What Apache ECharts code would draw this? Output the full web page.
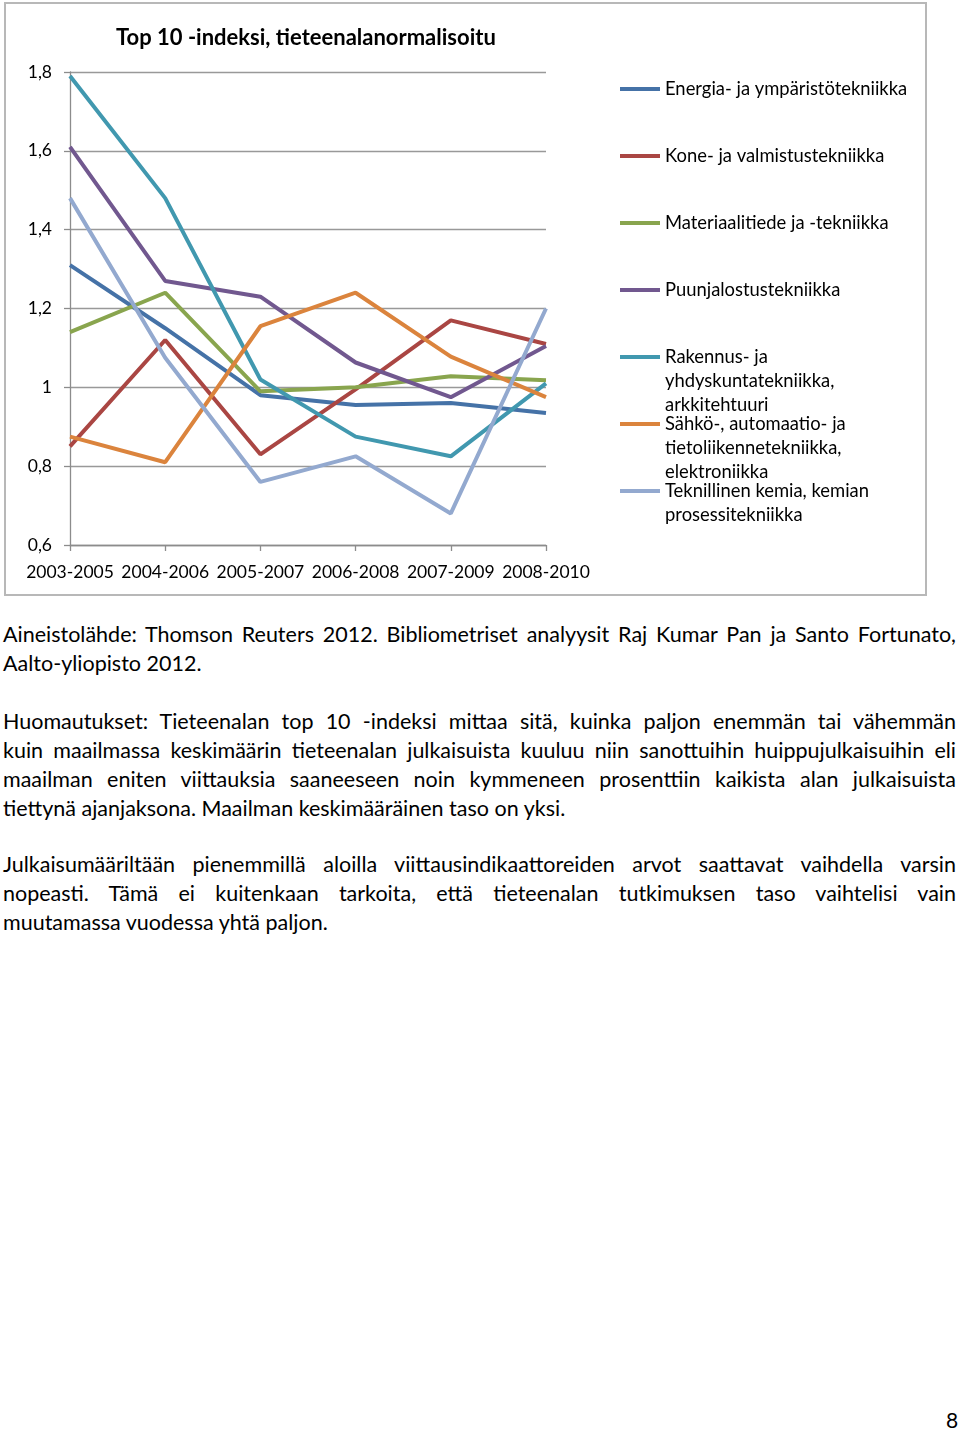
<!DOCTYPE html>
<html>
<head>
<meta charset="utf-8">
<script src="https://cdn.jsdelivr.net/npm/echarts@6/dist/echarts.min.js"></script>
<style>
  html, body { margin: 0; padding: 0; background: #fff; }
  body { width: 960px; height: 1432px; position: relative; font-family: Lato, sans-serif; color: #000; }
  #chartTop10 { position: absolute; left: 0; top: 0; width: 960px; height: 600px; }
  .notes { position: absolute; left: 3px; top: 620px; width: 953px; font-size: 21.5px; line-height: 29px; }
  .notes p { margin: 0; }
  .notes .ln { white-space: nowrap; }
  .notes .j { text-align: justify; text-align-last: justify; }
  .p2 { margin-top: 29px !important; }
  .p3 { margin-top: 27px !important; }
  .pagenum { position: absolute; left: 946px; top: 1407px; font-size: 21px; }
</style>
</head>
<body>
  <div id="chartTop10"></div>
  <div class="notes">
    <p>
      <span class="ln j" style="display:block">Aineistolähde: Thomson Reuters 2012. Bibliometriset analyysit Raj Kumar Pan ja Santo Fortunato,</span>
      <span class="ln" style="display:block">Aalto-yliopisto 2012.</span>
    </p>
    <p class="p2">
      <span class="ln j" style="display:block">Huomautukset: Tieteenalan top 10 -indeksi mittaa sitä, kuinka paljon enemmän tai vähemmän</span>
      <span class="ln j" style="display:block">kuin maailmassa keskimäärin tieteenalan julkaisuista kuuluu niin sanottuihin huippujulkaisuihin eli</span>
      <span class="ln j" style="display:block">maailman eniten viittauksia saaneeseen noin kymmeneen prosenttiin kaikista alan julkaisuista</span>
      <span class="ln" style="display:block">tiettynä ajanjaksona. Maailman keskimääräinen taso on yksi.</span>
    </p>
    <p class="p3">
      <span class="ln j" style="display:block">Julkaisumääriltään pienemmillä aloilla viittausindikaattoreiden arvot saattavat vaihdella varsin</span>
      <span class="ln j" style="display:block">nopeasti. Tämä ei kuitenkaan tarkoita, että tieteenalan tutkimuksen taso vaihtelisi vain</span>
      <span class="ln" style="display:block">muutamassa vuodessa yhtä paljon.</span>
    </p>
  </div>
  <div class="pagenum">8</div>

<script>
  // chart data
  const categories = ["2003-2005", "2004-2006", "2005-2007", "2006-2008", "2007-2009", "2008-2010"];
  const energia = [1.31, 1.15, 0.98, 0.955, 0.96, 0.935];
  const kone = [0.85, 1.12, 0.83, 0.995, 1.17, 1.11];
  const materiaali = [1.14, 1.24, 0.99, 1.0, 1.028, 1.018];
  const puunjalostus = [1.61, 1.27, 1.23, 1.063, 0.975, 1.105];
  const rakennus = [1.79, 1.48, 1.02, 0.875, 0.825, 1.01];
  const sahko = [0.875, 0.81, 1.155, 1.24, 1.078, 0.975];
  const teknillinen = [1.48, 1.075, 0.76, 0.825, 0.68, 1.2];
  const yTicks = ["0,6", "0,8", "1", "1,2", "1,4", "1,6", "1,8"];

  const names = [
    "Energia- ja ympäristötekniikka",
    "Kone- ja valmistustekniikka",
    "Materiaalitiede ja -tekniikka",
    "Puunjalostustekniikka",
    "Rakennus- ja\nyhdyskuntatekniikka,\narkkitehtuuri",
    "Sähkö-, automaatio- ja\ntietoliikennetekniikka,\nelektroniikka",
    "Teknillinen kemia, kemian\nprosessitekniikka"
  ];
  const values = [energia, kone, materiaali, puunjalostus, rakennus, sahko, teknillinen];
  const colors = ["#4572A7", "#AA4643", "#89A54E", "#71588F", "#4198AF", "#DB843D", "#93A9CF"];

  // legend rows: icon centre y, and blank lines put in front so the icon sits on the first line
  const legendY = [89, 156, 223, 290, 357, 424, 491];
  const LH = 24;

  const legends = names.map((name, i) => {
    const lines = name.split("\n").length;
    const pad = lines - 1;
    const total = lines + pad;
    return {
      data: [name],
      orient: "vertical",
      left: 620,
      top: legendY[i] - (total * LH) / 2,
      padding: 0,
      icon: "rect",
      itemWidth: 40,
      itemHeight: 4,
      selectedMode: false,
      formatter: (n) => "\n".repeat(pad) + n,
      textStyle: { fontFamily: "Lato", fontSize: 18.4, color: "#000", lineHeight: LH }
    };
  });

  const option = {
    animation: false,
    color: colors,
    title: {
      text: "Top 10 -indeksi, tieteenalanormalisoitu",
      left: 116,
      top: 26,
      padding: 0,
      textStyle: { fontFamily: "Lato", fontSize: 22, fontWeight: "bold", color: "#000", lineHeight: 24 }
    },
    legend: legends,
    grid: { left: 70, top: 72, width: 476, height: 473 },
    xAxis: {
      type: "category",
      boundaryGap: false,
      data: categories,
      axisLine: { lineStyle: { color: "#8c8c8c", width: 1.3 } },
      axisTick: { length: 6, lineStyle: { color: "#8c8c8c", width: 1.3 } },
      axisLabel: { margin: 18, fontFamily: "Lato", fontSize: 17.5, color: "#000", interval: 0 }
    },
    yAxis: {
      type: "value",
      min: 0.6,
      max: 1.8,
      interval: 0.2,
      axisLine: { show: true, lineStyle: { color: "#8c8c8c", width: 1.3 } },
      axisTick: { show: true, length: 6, lineStyle: { color: "#8c8c8c", width: 1.3 } },
      splitLine: { lineStyle: { color: "#999", width: 1.3 } },
      axisLabel: {
        margin: 18,
        fontFamily: "Lato",
        fontSize: 17.5,
        color: "#000",
        formatter: (v) => yTicks[Math.round((v - 0.6) / 0.2)]
      }
    },
    series: names.map((name, i) => ({
      name: name,
      type: "line",
      data: values[i],
      symbol: "none",
      lineStyle: { width: 4, color: colors[i] },
      itemStyle: { color: colors[i] }
    })),
    graphic: [{
      type: "rect",
      shape: { x: 5, y: 3, width: 921, height: 592 },
      style: { fill: null, stroke: "#b8b8b8", lineWidth: 2 },
      silent: true
    }]
  };

  const chart = echarts.init(document.getElementById("chartTop10"));
  chart.setOption(option);
</script>
</body>
</html>
